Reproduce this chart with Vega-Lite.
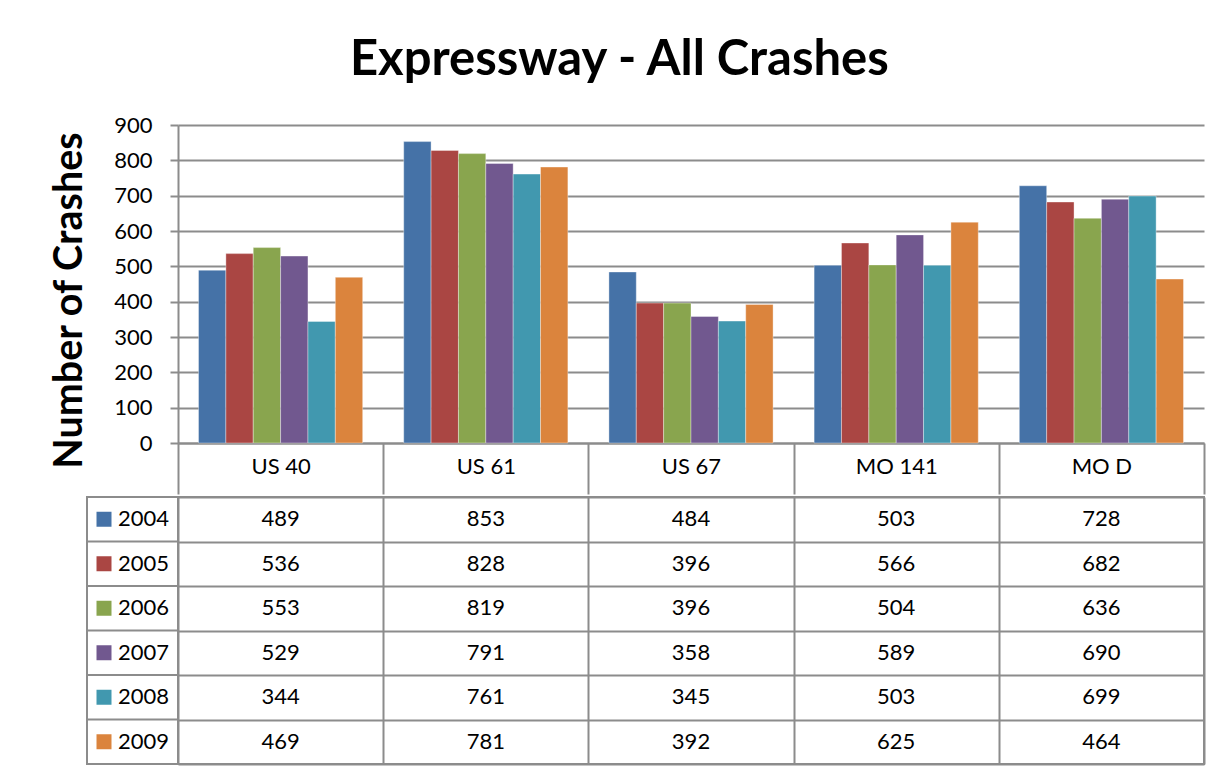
{
  "$schema": "https://vega.github.io/schema/vega-lite/v6.json",
  "background": "white",
  "padding": {"left": 49, "top": 36, "right": 5, "bottom": 5},
  "title": {"text": "Expressway - All Crashes", "fontSize": 49, "fontWeight": "bold", "font": "Lato", "color": "black", "anchor": "middle", "offset": 29, "dx": -8},
  "datasets": {
    "crashes": [
      {"road": "US 40", "year": "2004", "crashes": 489},
      {"road": "US 40", "year": "2005", "crashes": 536},
      {"road": "US 40", "year": "2006", "crashes": 553},
      {"road": "US 40", "year": "2007", "crashes": 529},
      {"road": "US 40", "year": "2008", "crashes": 344},
      {"road": "US 40", "year": "2009", "crashes": 469},
      {"road": "US 61", "year": "2004", "crashes": 853},
      {"road": "US 61", "year": "2005", "crashes": 828},
      {"road": "US 61", "year": "2006", "crashes": 819},
      {"road": "US 61", "year": "2007", "crashes": 791},
      {"road": "US 61", "year": "2008", "crashes": 761},
      {"road": "US 61", "year": "2009", "crashes": 781},
      {"road": "US 67", "year": "2004", "crashes": 484},
      {"road": "US 67", "year": "2005", "crashes": 396},
      {"road": "US 67", "year": "2006", "crashes": 396},
      {"road": "US 67", "year": "2007", "crashes": 358},
      {"road": "US 67", "year": "2008", "crashes": 345},
      {"road": "US 67", "year": "2009", "crashes": 392},
      {"road": "MO 141", "year": "2004", "crashes": 503},
      {"road": "MO 141", "year": "2005", "crashes": 566},
      {"road": "MO 141", "year": "2006", "crashes": 504},
      {"road": "MO 141", "year": "2007", "crashes": 589},
      {"road": "MO 141", "year": "2008", "crashes": 503},
      {"road": "MO 141", "year": "2009", "crashes": 625},
      {"road": "MO D", "year": "2004", "crashes": 728},
      {"road": "MO D", "year": "2005", "crashes": 682},
      {"road": "MO D", "year": "2006", "crashes": 636},
      {"road": "MO D", "year": "2007", "crashes": 690},
      {"road": "MO D", "year": "2008", "crashes": 699},
      {"road": "MO D", "year": "2009", "crashes": 464}
    ]
  },
  "spacing": 0,
  "vconcat": [
    {
      "bounds": "flush",
      "spacing": 0,
      "hconcat": [
        {
          "width": 91,
          "height": 318,
          "data": {"name": "crashes"},
          "view": {"stroke": null},
          "mark": {"type": "text", "text": ""},
          "encoding": {}
        },
        {
          "width": 1026,
          "height": 318,
          "data": {"name": "crashes"},
          "view": {"stroke": null},
          "mark": {"type": "bar", "stroke": "#ffffff", "strokeWidth": 0.6, "strokeOpacity": 0.6},
          "encoding": {
            "x": {
              "field": "road", "type": "nominal",
              "sort": ["US 40", "US 61", "US 67", "MO 141", "MO D"],
              "scale": {"paddingInner": 0, "paddingOuter": 0},
              "axis": {"title": null, "ticks": true, "tickBand": "extent", "tickSize": 51, "tickColor": "#8c8c8c", "tickWidth": 2, "labelAngle": 0, "labelFontSize": 22, "labelPadding": -38, "labelColor": "black", "domainColor": "#8c8c8c", "domainWidth": 2}
            },
            "xOffset": {
              "field": "year", "type": "nominal",
              "scale": {"paddingInner": 0, "paddingOuter": 0.75}
            },
            "y": {
              "field": "crashes", "type": "quantitative",
              "scale": {"domain": [0, 900], "nice": false},
              "axis": {
                "values": [0, 100, 200, 300, 400, 500, 600, 700, 800, 900],
                "title": "Number of Crashes", "titleFontSize": 39.5, "titleFontWeight": "bold", "titleColor": "black", "titlePadding": 24, "titleY": 175,
                "labelFontSize": 22, "labelColor": "black", "labelPadding": 18,
                "tickSize": 8, "tickColor": "#8c8c8c", "tickWidth": 2,
                "domainColor": "#8c8c8c", "domainWidth": 2,
                "grid": true, "gridColor": "#8c8c8c", "gridWidth": 2
              }
            },
            "color": {
              "field": "year", "type": "nominal",
              "scale": {"domain": ["2004", "2005", "2006", "2007", "2008", "2009"], "range": ["#4572A7", "#AA4643", "#89A54E", "#71588F", "#4198AF", "#DB843D"]},
              "legend": null
            }
          }
        }
      ]
    },
    {
      "bounds": "flush",
      "spacing": 0,
      "hconcat": [
        {
          "width": 91,
          "height": 267,
          "data": {"name": "crashes"},
          "transform": [{"filter": "datum.road === 'US 40'"}],
          "view": {"stroke": "#8c8c8c", "strokeWidth": 2},
          "encoding": {
            "y": {
              "field": "year", "type": "nominal",
              "scale": {"paddingInner": 0, "paddingOuter": 0},
              "axis": null
            }
          },
          "layer": [
            {
              "mark": {"type": "rule", "color": "#8c8c8c", "strokeWidth": 2},
              "encoding": {
                "y": {"field": "year", "type": "nominal", "bandPosition": 0, "scale": {"paddingInner": 0, "paddingOuter": 0}, "axis": null}
              }
            },
            {
              "mark": {"type": "square", "size": 225, "opacity": 1},
              "encoding": {
                "x": {"datum": "sym", "type": "nominal", "scale": {"type": "point", "domain": ["sym", "lab"], "range": [17, 31], "padding": 0}, "axis": null},
                "color": {
                  "field": "year", "type": "nominal",
                  "scale": {"domain": ["2004", "2005", "2006", "2007", "2008", "2009"], "range": ["#4572A7", "#AA4643", "#89A54E", "#71588F", "#4198AF", "#DB843D"]},
                  "legend": null
                }
              }
            },
            {
              "mark": {"type": "text", "align": "left", "baseline": "middle", "fontSize": 22, "color": "black"},
              "encoding": {
                "x": {"datum": "lab", "type": "nominal", "scale": {"type": "point", "domain": ["sym", "lab"], "range": [17, 31], "padding": 0}, "axis": null},
                "text": {"field": "year"}
              }
            }
          ]
        },
        {
          "width": 1026,
          "height": 267,
          "data": {"name": "crashes"},
          "view": {"stroke": "#8c8c8c", "strokeWidth": 2},
          "mark": {"type": "text", "fontSize": 22, "color": "black", "baseline": "middle"},
          "encoding": {
            "x": {
              "field": "road", "type": "nominal",
              "sort": ["US 40", "US 61", "US 67", "MO 141", "MO D"],
              "scale": {"paddingInner": 0, "paddingOuter": 0},
              "axis": {"title": null, "labels": false, "domain": false, "ticks": false, "tickSize": 0, "tickBand": "extent", "grid": true, "gridColor": "#8c8c8c", "gridWidth": 2}
            },
            "y": {
              "field": "year", "type": "nominal",
              "scale": {"paddingInner": 0, "paddingOuter": 0},
              "axis": {"title": null, "labels": false, "ticks": false, "tickSize": 0, "domain": false, "grid": true, "tickBand": "extent", "gridColor": "#8c8c8c", "gridWidth": 2}
            },
            "text": {"field": "crashes", "type": "quantitative"}
          }
        }
      ]
    }
  ],
  "config": {
    "font": "Lato",
    "axis": {"labelFont": "Lato", "titleFont": "Lato"},
    "text": {"font": "Lato"}
  }
}
